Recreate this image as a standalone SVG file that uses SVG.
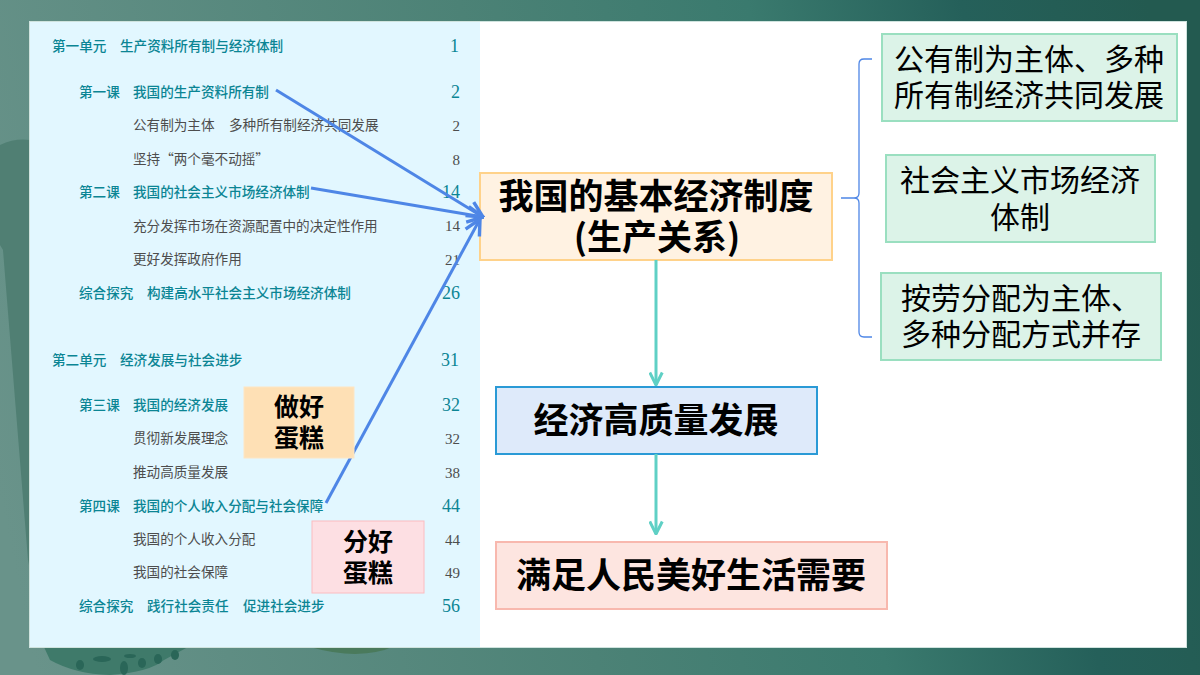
<svg xmlns="http://www.w3.org/2000/svg" width="1200" height="675" viewBox="0 0 1200 675">
<defs>
<linearGradient id="bg" gradientUnits="userSpaceOnUse" x1="0" y1="500" x2="1200" y2="250"><stop offset="0" stop-color="#69938a"/><stop offset="0.45" stop-color="#4c8276"/><stop offset="0.68" stop-color="#3a7a6e"/><stop offset="0.85" stop-color="#25605a"/><stop offset="1" stop-color="#235a50"/></linearGradient>
<marker id="ab" viewBox="0 0 14 14" refX="13" refY="7" markerWidth="20" markerHeight="20" markerUnits="userSpaceOnUse" orient="auto"><path d="M2 1.5 L13 7 L2 12.5" fill="none" stroke="#4e86e6" stroke-width="2.4"/></marker>
<marker id="at" viewBox="0 0 12 12" refX="11" refY="6" markerWidth="15" markerHeight="15" markerUnits="userSpaceOnUse" orient="auto"><path d="M1 1 L11 6 L1 11" fill="none" stroke="#5fd0c5" stroke-width="2.4"/></marker>
</defs>
<style>
text{font-family:"Noto Sans CJK SC","Noto Sans",sans-serif;fill:#000}
.t{font-size:13.6px;font-weight:500;fill:#0b8594}
.b{font-size:13.6px;fill:#4d4d4d}
.nt{font-family:"Liberation Serif","Noto Sans CJK SC",serif;font-size:18px;fill:#0b8594;text-anchor:end}
.nb{font-family:"Liberation Serif","Noto Sans CJK SC",serif;font-size:15px;fill:#4d4d4d;text-anchor:end}
.big{font-size:35px;font-weight:700;text-anchor:middle}
.mid{font-size:30px;text-anchor:middle}
.sm{font-size:25px;font-weight:700;text-anchor:middle}
.bl{stroke:#4e86e6;stroke-width:3;fill:none;marker-end:url(#ab)}
.tl{stroke:#5fd0c5;stroke-width:3;fill:none;marker-end:url(#at)}
.gr{fill:#dcf3e8;stroke:#9adfc0;stroke-width:2}
</style>
<rect width="1200" height="675" fill="url(#bg)"/>
<path d="M0 145 Q15 138 30 140 L30 570 L28 560 L7 300 L3 250 L0 245Z" fill="#507f73"/>
<path d="M44 647 L50 660 Q75 674 110 675 Q150 672 164 660 L188 647Z" fill="#3f7a6a"/>
<g fill="#2a6658"><ellipse cx="102" cy="659" rx="9" ry="3"/><ellipse cx="80" cy="665" rx="4" ry="5"/><ellipse cx="124" cy="668" rx="4" ry="7"/><ellipse cx="142" cy="663" rx="4" ry="5"/><ellipse cx="158" cy="659" rx="4" ry="5"/><ellipse cx="175" cy="655" rx="4" ry="5"/><ellipse cx="130" cy="656" rx="6" ry="2"/></g>
<path d="M310 647 Q335 654 355 654 Q380 653 392 647Z" fill="#4a7a5c"/>
<rect x="29.500" y="21.500" width="1157" height="626" fill="#fff" stroke="#cfe3de"/>
<rect x="30" y="22" width="450" height="625" fill="#e2f7ff"/>
<g id="toc">
<text class="t" x="52" y="51">第一单元</text><text class="t" x="120" y="51">生产资料所有制与经济体制</text><text class="nt" x="459" y="52">1</text>
<text class="t" x="79" y="97">第一课</text><text class="t" x="133" y="97">我国的生产资料所有制</text><text class="nt" x="460" y="98">2</text>
<text class="b" x="133" y="130">公有制为主体</text><text class="b" x="229" y="130">多种所有制经济共同发展</text><text class="nb" x="460" y="131">2</text>
<text class="b" x="133" y="164">坚持“两个毫不动摇”</text><text class="nb" x="460" y="165">8</text>
<text class="t" x="79" y="197">第二课</text><text class="t" x="133" y="197">我国的社会主义市场经济体制</text><text class="nt" x="460" y="198">14</text>
<text class="b" x="133" y="231">充分发挥市场在资源配置中的决定性作用</text><text class="nb" x="460" y="231">14</text>
<text class="b" x="133" y="264">更好发挥政府作用</text><text class="nb" x="460" y="265">21</text>
<text class="t" x="79" y="298">综合探究</text><text class="t" x="147" y="298">构建高水平社会主义市场经济体制</text><text class="nt" x="460" y="299">26</text>
<text class="t" x="52" y="365">第二单元</text><text class="t" x="120" y="365">经济发展与社会进步</text><text class="nt" x="459" y="366">31</text>
<text class="t" x="79" y="410">第三课</text><text class="t" x="133" y="410">我国的经济发展</text><text class="nt" x="460" y="411">32</text>
<text class="b" x="133" y="443">贯彻新发展理念</text><text class="nb" x="460" y="444">32</text>
<text class="b" x="133" y="477">推动高质量发展</text><text class="nb" x="460" y="478">38</text>
<text class="t" x="79" y="511">第四课</text><text class="t" x="133" y="511">我国的个人收入分配与社会保障</text><text class="nt" x="460" y="512">44</text>
<text class="b" x="133" y="544">我国的个人收入分配</text><text class="nb" x="460" y="545">44</text>
<text class="b" x="133" y="577">我国的社会保障</text><text class="nb" x="460" y="578">49</text>
<text class="t" x="79" y="611">综合探究</text><text class="t" x="147" y="611">践行社会责任</text><text class="t" x="243" y="611">促进社会进步</text><text class="nt" x="460" y="612">56</text>
</g>
<g id="n-base"><rect x="480" y="173" width="352" height="87" fill="#fff2e2" stroke="#ffd28a" stroke-width="2"/><text class="big" x="656" y="209">我国的基本经济制度</text><text class="big" x="657" y="250">(生产关系)</text></g>
<g id="n-quality"><rect x="496" y="387" width="321" height="67" fill="#deeafa" stroke="#2a9ad6" stroke-width="2"/><text class="big" x="656" y="433">经济高质量发展</text></g>
<g id="n-need"><rect x="496" y="542" width="391" height="67" fill="#fde5e0" stroke="#f8b8ae" stroke-width="2"/><text class="big" x="691" y="588">满足人民美好生活需要</text></g>
<g id="n-r1"><rect class="gr" x="882" y="34" width="295" height="87"/><text class="mid" x="1029" y="70">公有制为主体、多种</text><text class="mid" x="1029" y="106">所有制经济共同发展</text></g>
<g id="n-r2"><rect class="gr" x="886" y="155" width="269" height="87"/><text class="mid" x="1020" y="191">社会主义市场经济</text><text class="mid" x="1020" y="228">体制</text></g>
<g id="n-r3"><rect class="gr" x="881" y="273" width="280" height="87"/><text class="mid" x="1021" y="309">按劳分配为主体、</text><text class="mid" x="1021" y="345">多种分配方式并存</text></g>
<g id="connectors">
<path class="bl" d="M276 90 L483 217"/>
<path class="bl" d="M311 188 L483 217"/>
<path class="bl" d="M326 503 L480 219"/>
<path class="tl" d="M656 260 L656 385"/>
<path class="tl" d="M656 454 L656 534"/>
<path d="M872 59 L864 59 Q859 59 859 64 L859 193 Q859 198 854 198 L841 198 M854 198 Q859 198 859 203 L859 332 Q859 337 864 337 L872 337" fill="none" stroke="#4e86e6" stroke-width="1.3"/>
</g>
<g id="n-make"><rect x="244" y="387" width="110" height="71" fill="#fee0b5" stroke="#fde6c4"/><text class="sm" x="299" y="416">做好</text><text class="sm" x="299" y="447">蛋糕</text></g>
<g id="n-share"><rect x="312" y="521" width="112" height="72" fill="#fddfe3" stroke="#fbbcc0"/><text class="sm" x="368" y="551">分好</text><text class="sm" x="368" y="582">蛋糕</text></g>
</svg>
